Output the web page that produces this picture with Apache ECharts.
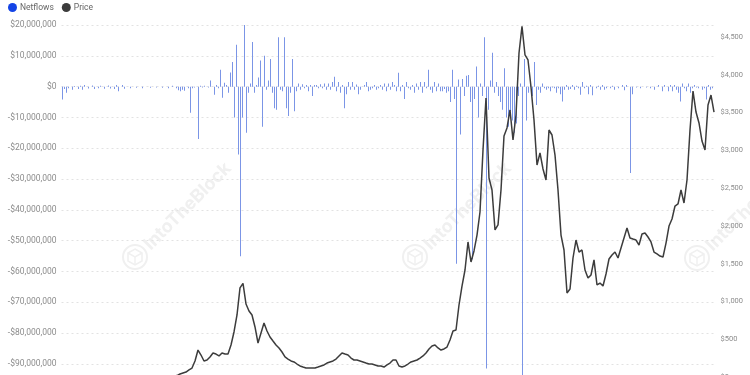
<!DOCTYPE html>
<html><head><meta charset="utf-8">
<script src="https://cdn.jsdelivr.net/npm/echarts@6/dist/echarts.min.js"></script>
<style>html,body{margin:0;padding:0;background:#fff;overflow:hidden;width:750px;height:375px}#c{width:750px;height:400px}</style>
</head><body><div id="c"></div>
<script>
// Netflows in millions of USD (one bar per ~10 days, Aug 2015 - Jun 2024)
const netflows = [
-4.2,-0.8,-2.0,-0.5,0,-1.0,0.2,0,-0.8,0.3,
-1.0,0.5,0,-0.6,0,0.4,-0.8,0,-0.5,0.3,
0,-0.7,0,0.4,-0.6,0,-0.8,0.5,-1.5,0,
0.5,-0.7,0,0,-0.5,0,0,-0.4,0,0,
-0.5,0,0,0,-0.4,0,0,-0.3,0,0,
-0.4,0,0,-0.5,0,0.3,0,-0.5,-1.2,-1.5,
-1.0,-1.3,0,-0.5,-8.5,-0.5,-0.3,0,-17,0.3,
-0.3,0.3,0,-0.3,2,0,-2.6,0.5,-0.5,5.5,
-3.6,1.3,0.5,-2,4.6,8,-10,13.6,-22,-55,
-10,20,-15,-2,1,14.5,-2,0.5,3,8.5,
-13,10,-1,2,9,-2,-7,-7.5,16,-1,
-1.5,16,-7,-9.5,-2,9,-8,-1.5,1,-1,
0.8,-0.5,0.5,-1.5,0.5,-3,0.5,0.5,-0.5,0.8,
-0.5,1,-1,1,-1,1.5,3.2,-1.5,1.5,-2,
0.5,-7,-2.5,1.5,-1,1.5,-1,0.7,-2.5,-1,
0,0.5,1.5,-1.5,-1,-0.5,0.5,-1,-0.5,0.5,
-1,1,-1.5,1,-1,1.5,0.5,-1.5,4.5,-1.5,
0.5,-4,1.5,-0.5,-1,0.5,-2,1,-1,1.5,
-2,1.5,-0.5,5.5,-1,-2,1.5,-1.5,1,-1.5,
-1.5,-0.8,-2,-1.5,-5,5.5,-4,-57.5,2.3,-15.5,
2.5,-3,3.5,3.8,-5,-56,-4,6.5,-10,1,
-3,16,-91.5,-7.5,2,11,-2,1.5,-3,-5,
-7.5,6,-10,-13,-8,-11,-15,-12,-3,1,
-97,9,-11,-2,2,-3,8,-6,-1,-2,
1,-0.5,-1,-0.5,-1.5,-0.3,-0.5,-2,-0.5,-2.5,
-4.8,-1,0.5,-1,-0.8,0.5,-1,0.3,-0.5,-2.6,
1.5,-0.5,0.3,-2.5,0.5,-2.8,0,-0.5,0.3,-1,
0.5,-1,-0.5,0,-0.5,0.3,-1,0,-0.5,0,
0.5,-1.2,0.5,0,-28,-2.5,0,-0.3,0,-0.5,
0,0,-0.3,0,-0.5,0,-1,0,0.5,0,
-1.5,0.5,0,-1.5,0.5,-1.5,0.5,-1,-2,-4.8,
1,-0.5,-1.5,1,-2,-0.5,0.5,-0.3,-0.5,0,
-1,-0.5,-4.2,0.5,-1,-0.5,0
];
// Price in USD (one point per ~15 days)
const price = [
1.2,1.2,0.9,0.7,0.5,1.0,0.9,0.9,0.8,0.9,
1.0,2.3,4,6,14,11,8,8,10,12,
16,13,11,13,11,11,12,13,12,11,
11,9,8,7,10,11,11,12,19,40,
53,66,93,119,212,357,291,212,225,265,
318,304,278,318,304,304,424,596,821,1180,
1240,966,874,821,662,450,582,715,609,529,
476,424,384,331,265,238,212,199,172,146,
132,119,119,119,119,132,146,159,185,199,
212,238,278,318,304,291,251,225,225,212,
199,185,172,172,159,146,146,132,159,185,
225,225,146,132,146,172,199,212,225,251,
278,318,371,410,424,384,357,371,397,490,
609,622,953,1204,1416,1787,1522,1668,1879,2184,
3004,3693,2634,2475,1946,2012,2475,3190,3296,3534,
3137,3468,4288,4640,4262,4196,3838,3401,2806,2965,
2753,2607,3269,3203,2938,2475,1879,1681,1112,1165,
1575,1813,1654,1681,1416,1310,1350,1549,1218,1244,
1204,1363,1562,1615,1654,1575,1707,1840,1972,1840,
1826,1813,1747,1893,1906,1853,1787,1654,1628,1601,
1588,1773,1998,2091,2263,2290,2475,2303,2607,3269,
3785,3507,3362,3123,3004,3600,3732,3507
];
const flowTicks = [20,10,0,-10,-20,-30,-40,-50,-60,-70,-80,-90,-100];
const priceTicks = [0,500,1000,1500,2000,2500,3000,3500,4000,4500];

// category labels (dates)
const flowDates = [];
for (let k = 0; k < netflows.length; k++) flowDates.push(new Date(Date.UTC(2015,7,16) + k*10*864e5).toISOString().slice(0,10));
const priceDates = [];
for (let k = 0; k < price.length; k++) priceDates.push(new Date(Date.UTC(2015,7,16) + k*15*864e5).toISOString().slice(0,10));

const FONT = 'Roboto';
const fmtFlow = v => (v < 0 ? '-' : '') + '$' + Math.abs(v * 1e6).toLocaleString('en-US');
const fmtPrice = v => '$' + v.toLocaleString('en-US');

function watermark(cx, cy) {
  const col = '#f0f0f0';
  return [
    {type:'circle', shape:{cx:cx, cy:cy, r:12}, style:{fill:'none', stroke:col, lineWidth:2}, silent:true, z:0},
    {type:'polygon', shape:{points:[[cx,cy-8],[cx+7,cy-4],[cx+7,cy+4],[cx,cy+8],[cx-7,cy+4],[cx-7,cy-4]]}, style:{fill:'none', stroke:col, lineWidth:1.5}, silent:true, z:0},
    {type:'polyline', shape:{points:[[cx-7,cy-4],[cx,cy],[cx+7,cy-4]]}, style:{fill:'none', stroke:col, lineWidth:1.5}, silent:true, z:0},
    {type:'line', shape:{x1:cx, y1:cy, x2:cx, y2:cy+8}, style:{stroke:col, lineWidth:1.5}, silent:true, z:0},
    {type:'text', x:cx+12, y:cy-10, rotation:Math.PI/4, silent:true, z:0,
     style:{text:'IntoTheBlock', fill:col, font:'bold 18px Inter', align:'left', verticalAlign:'middle'}}
  ];
}

const chart = echarts.init(document.getElementById('c'), null, {renderer:'canvas', width:750, height:400});
chart.setOption({
  animation: false,
  backgroundColor: '#ffffff',
  textStyle: {fontFamily: FONT},
  graphic: [].concat(watermark(135,257), watermark(415,257), watermark(697,258)),
  legend: {
    left: 3, top: -2, icon: 'circle', itemWidth: 9, itemHeight: 9, itemGap: 8,
    textStyle: {fontSize: 8.5, color: '#666', fontFamily: FONT, padding:[0,0,0,-2]},
    data: [
      {name: 'Netflows', itemStyle: {color: '#1444e6'}},
      {name: 'Price', itemStyle: {color: '#3c3c3c'}}
    ]
  },
  grid: {left: 61.5, top: 25, width: 654, height: 369.8, containLabel: false, outerBoundsMode: 'none'},
  xAxis: [
    {type: 'category', data: flowDates, show: false},
    {type: 'category', data: priceDates, show: false}
  ],
  yAxis: [
    {type: 'value', position: 'left', min: -100, max: 20, interval: 10,
     axisLine: {show: false}, axisTick: {show: false},
     axisLabel: {formatter: fmtFlow, fontSize: 8.5, color: '#8c8c8c', margin: 5, fontFamily: FONT},
     splitLine: {show: true, lineStyle: {type: [2, 3], color: '#e2e2e2', width: 1}}},
    {type: 'value', position: 'right', min: -235.6, max: 4658.8,
     axisLine: {show: false}, axisTick: {show: false}, splitLine: {show: false},
     axisLabel: {customValues: priceTicks, formatter: fmtPrice, fontSize: 7.5, color: '#8c8c8c', margin: 5, fontFamily: FONT}}
  ],
  series: [
    {name: 'Netflows', type: 'bar', xAxisIndex: 0, yAxisIndex: 0, data: netflows,
     barWidth: 1, itemStyle: {color: '#7b95e6'}, emphasis: {disabled: true}},
    {name: 'Price', type: 'line', xAxisIndex: 1, yAxisIndex: 1, data: price,
     showSymbol: false, symbol: 'none', lineStyle: {color: '#3c3c3c', width: 1.5}, itemStyle: {color: '#3c3c3c'},
     emphasis: {disabled: true}, z: 3}
  ]
});
</script></body></html>
